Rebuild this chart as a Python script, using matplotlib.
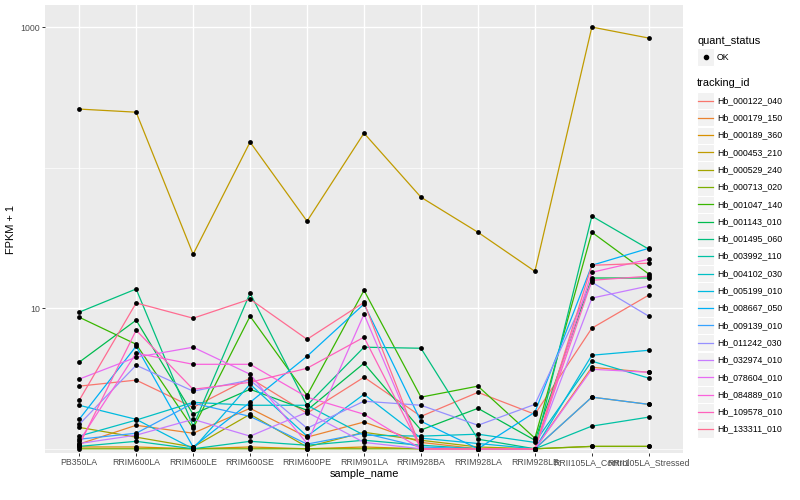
import numpy as np
import matplotlib.pyplot as plt
from matplotlib.patches import Rectangle
from matplotlib.lines import Line2D
from matplotlib.ticker import FixedLocator, NullFormatter

plt.rcParams['font.family'] = ['Liberation Sans', 'DejaVu Sans']

# --- data (FPKM + 1) ---
samples = ['PB350LA', 'RRIM600LA', 'RRIM600LE', 'RRIM600SE', 'RRIM600PE',
           'RRIM901LA', 'RRIM928BA', 'RRIM928LA', 'RRIM928LB',
           'RRII105LA_Control', 'RRII105LA_Stressed']

tracking_ids = ['Hb_000122_040', 'Hb_000179_150', 'Hb_000189_360', 'Hb_000453_210',
                'Hb_000529_240', 'Hb_000713_020', 'Hb_001047_140', 'Hb_001143_010',
                'Hb_001495_060', 'Hb_003992_110', 'Hb_004102_030', 'Hb_005199_010',
                'Hb_008667_050', 'Hb_009139_010', 'Hb_011242_030', 'Hb_032974_010',
                'Hb_078604_010', 'Hb_084889_010', 'Hb_109578_010', 'Hb_133311_010']

fpkm = {
    'Hb_000122_040': [2.79, 3.08, 1.97, 3.18, 1.79, 3.23, 1.70, 2.52, 1.76, 7.21, 12.4],
    'Hb_000179_150': [1.08, 1.47, 1.29, 1.94, 1.21, 1.55, 1.11, 1.0, 1.0, 3.80, 3.50],
    'Hb_000189_360': [1.03, 1.03, 1.0, 1.03, 1.0, 1.03, 1.0, 1.0, 1.0, 2.33, 2.07],
    'Hb_000453_210': [261, 248, 24.2, 152, 41.6, 176, 61.6, 34.7, 18.3, 1000, 835],
    'Hb_000529_240': [1.42, 1.21, 1.03, 1.76, 1.03, 1.31, 1.15, 1.03, 1.0, 1.04, 1.04],
    'Hb_000713_020': [1.0, 1.0, 1.0, 1.0, 1.0, 1.0, 1.0, 1.0, 1.0, 1.04, 1.04],
    'Hb_001047_140': [8.63, 5.54, 1.40, 8.77, 2.40, 13.4, 2.33, 2.79, 1.19, 34.7, 17.5],
    'Hb_001143_010': [4.13, 8.22, 1.76, 2.65, 1.88, 4.06, 1.36, 1.94, 1.15, 16.4, 16.4],
    'Hb_001495_060': [9.37, 13.7, 1.45, 12.8, 2.04, 5.28, 5.19, 1.17, 1.0, 45.2, 26.3],
    'Hb_003992_110': [1.04, 1.13, 1.0, 1.13, 1.06, 1.15, 1.06, 1.0, 1.0, 1.45, 1.68],
    'Hb_004102_030': [1.23, 1.60, 2.14, 2.04, 2.04, 1.25, 1.23, 1.27, 1.11, 4.20, 3.18],
    'Hb_005199_010': [2.04, 1.62, 1.0, 2.88, 1.23, 2.44, 1.19, 1.09, 1.0, 4.63, 5.02],
    'Hb_008667_050': [1.62, 5.37, 1.03, 2.14, 4.55, 10.7, 1.57, 1.0, 1.82, 20.2, 26.7],
    'Hb_009139_010': [1.17, 1.29, 2.11, 1.70, 1.08, 1.29, 1.03, 1.0, 1.0, 2.33, 2.07],
    'Hb_011242_030': [1.49, 3.93, 2.57, 3.08, 1.40, 2.18, 2.04, 1.47, 2.07, 15.3, 8.77],
    'Hb_032974_010': [1.09, 1.25, 1.62, 1.23, 1.82, 1.11, 1.0, 1.0, 1.0, 11.8, 14.4],
    'Hb_078604_010': [3.13, 4.48, 5.28, 3.39, 1.09, 9.06, 1.0, 1.0, 1.0, 3.68, 3.50],
    'Hb_084889_010': [1.13, 4.79, 3.99, 3.99, 2.33, 1.76, 1.0, 1.0, 1.0, 18.0, 22.3],
    'Hb_109578_010': [1.06, 6.97, 2.65, 2.97, 3.74, 6.22, 1.0, 1.0, 1.0, 15.8, 16.9],
    'Hb_133311_010': [2.21, 10.9, 8.49, 11.6, 6.01, 11.0, 1.0, 1.0, 1.0, 20.2, 20.9],
}

# ggplot hue palette for 20 levels
colores = ['#F8766D', '#EA8331', '#D89000', '#C09B00', '#A3A500', '#7CAE00',
           '#39B600', '#00BB4E', '#00BF7D', '#00C1A3', '#00BFC4', '#00BAE0',
           '#00B0F6', '#35A2FF', '#9590FF', '#C77CFF', '#E76BF3', '#FA62DB',
           '#FF62BC', '#FF6C91']

W, H = 800, 500
fig = plt.figure(figsize=(8, 5), dpi=100)

def fx(px):
    return px / W

def fy(py):
    return 1 - py / H

ax = fig.add_axes([fx(45), fy(453), fx(683) - fx(45), fy(5) - fy(453)])
ax.set_facecolor('#EBEBEB')

x = np.arange(len(samples))
for tid, col in zip(tracking_ids, colores):
    ax.plot(x, fpkm[tid], color=col, lw=0.9, zorder=2)
for tid in tracking_ids:
    ax.scatter(x, fpkm[tid], s=12, color='black', lw=0, zorder=3)

ax.set_yscale('log')
ax.set_ylim(10 ** -0.03, 10 ** 3.157)
ax.set_xlim(-0.6, len(samples) - 0.4)
ax.set_yticks([10, 1000])
ax.set_yticklabels(['10', '1000'])
ax.yaxis.set_minor_locator(FixedLocator([1, 100]))
ax.yaxis.set_minor_formatter(NullFormatter())
ax.set_xticks(x)
ax.set_xticklabels(samples)

ax.grid(which='major', color='white', lw=1.0, zorder=0)
ax.grid(which='minor', axis='y', color='white', lw=0.5, zorder=0)
ax.set_axisbelow(True)
for s in ax.spines.values():
    s.set_visible(False)
ax.tick_params(which='major', length=2.0, width=0.7, color='#333333',
               labelsize=6.3, labelcolor='#4D4D4D', pad=1.6)
ax.tick_params(which='minor', length=0)

ax.set_xlabel('sample_name', fontsize=7.9, labelpad=1.5)
ax.set_ylabel('FPKM + 1', fontsize=7.9, labelpad=3)

# --- legend (ggplot style, drawn by hand) ---
key_w = 17
fig.text(fx(697), fy(41), 'quant_status', fontsize=7.9, va='center', ha='left')
fig.patches.append(Rectangle((fx(697), fy(57 + key_w / 2)), key_w / W, key_w / H,
                             transform=fig.transFigure, facecolor='#F2F2F2',
                             edgecolor='white', lw=0.8))
fig.lines.append(Line2D([fx(697 + key_w / 2)], [fy(57)], marker='o', ms=3,
                        color='black', lw=0, transform=fig.transFigure))
fig.text(fx(717), fy(57), 'OK', fontsize=6.3, va='center', ha='left')

fig.text(fx(697), fy(83), 'tracking_id', fontsize=7.9, va='center', ha='left')
for i, (tid, col) in enumerate(zip(tracking_ids, colores)):
    cy = 100.5 + i * 17.3
    fig.patches.append(Rectangle((fx(697), fy(cy + key_w / 2)), key_w / W, key_w / H,
                                 transform=fig.transFigure, facecolor='#F2F2F2',
                                 edgecolor='white', lw=0.8))
    fig.lines.append(Line2D([fx(698), fx(697 + key_w - 1)], [fy(cy), fy(cy)],
                            color=col, lw=0.9, transform=fig.transFigure))
    fig.text(fx(717), fy(cy), tid, fontsize=6.3, va='center', ha='left')

fig.savefig('out.png', dpi=100)
